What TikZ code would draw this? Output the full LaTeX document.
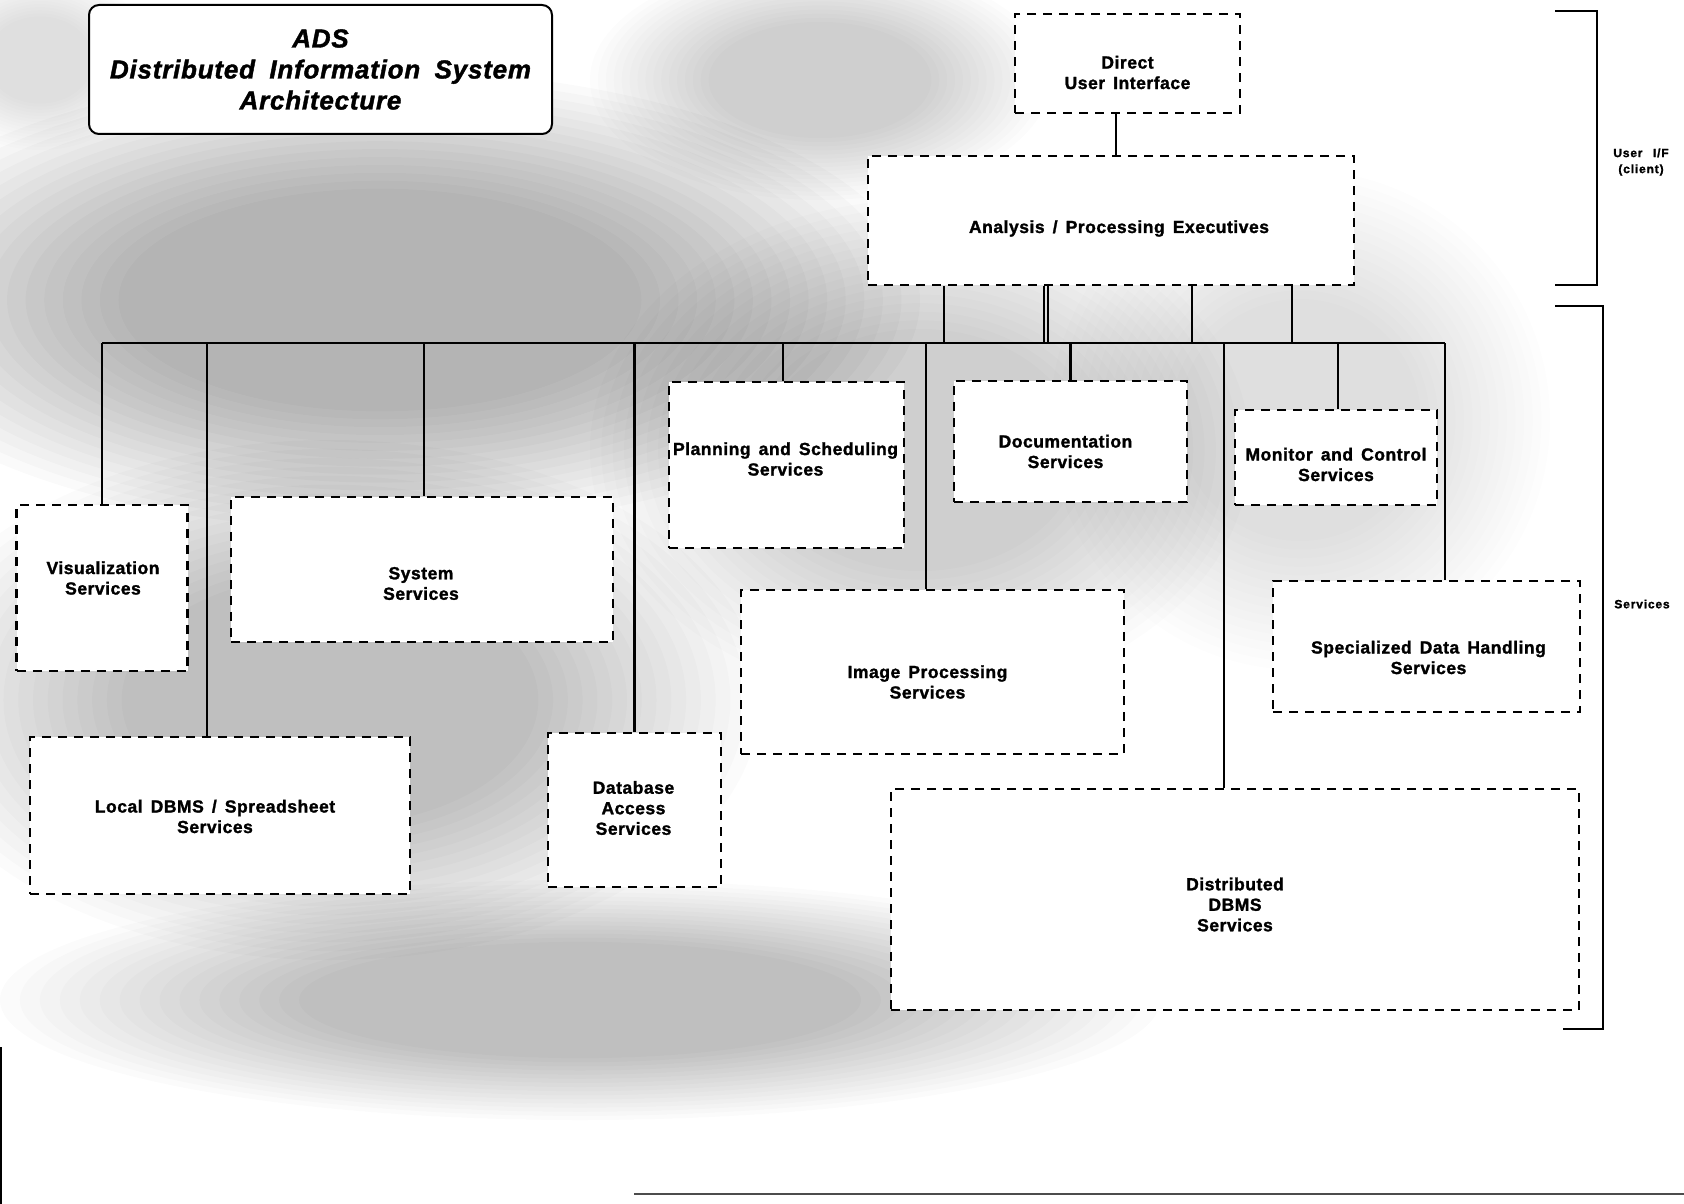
\documentclass[tikz,border=0pt]{standalone}
\usepackage{fontspec}
\setmainfont{Liberation Sans}
\newfontfamily\labfont{Liberation Sans Bold}[LetterSpace=3,WordSpace=1.5,FakeBold=1.5]
\newfontfamily\titfont{Liberation Sans Bold Italic}[LetterSpace=3,WordSpace=1.8,FakeBold=1.5]
\newfontfamily\sidefont{Liberation Sans Bold}[LetterSpace=7,WordSpace=2.5,FakeBold=1.5]
\usetikzlibrary{calc}
% soft blob with a flat centre: 16 layers from half radius to full radius
\newcommand\bgblob[5]{%
  \foreach \k in {1,...,16}{%
    \pgfmathsetmacro\rxx{#3*(0.45+0.55*\k/16)}%
    \pgfmathsetmacro\ryy{#4*(0.45+0.55*\k/16)}%
    \pgfmathsetmacro\opa{#5/16}%
    \fill[black, fill opacity=\opa] (#1,#2) ellipse [x radius=\rxx pt, y radius=\ryy pt];
  }}
\tikzset{
  box/.style={draw, line width=2.5pt, dash pattern=on 9pt off 7pt, fill=white, inner sep=0pt},
  lab/.style={font=\labfont\fontsize{17.5}{20.5}\selectfont, align=center, inner sep=0pt},
  wire/.style={line width=2.5pt},
  brk/.style={line width=2.5pt},
  side/.style={font=\sidefont\fontsize{12}{16}\selectfont, align=center, inner sep=0pt},
}
\begin{document}
\begin{tikzpicture}[x=1pt,y=-1pt]
\useasboundingbox (0,0) rectangle (1684,1204);
\fill[white] (0,0) rectangle (1684,1204);
% background stipple tone
\begin{scope}
\clip (0,0) rectangle (1684,1204);
\bgblob{380}{300}{540}{230}{0.30}
\bgblob{330}{700}{430}{260}{0.24}
\bgblob{580}{1000}{580}{120}{0.24}
\bgblob{920}{450}{330}{250}{0.20}
\bgblob{1300}{420}{250}{250}{0.10}
\bgblob{820}{80}{230}{120}{0.16}
\bgblob{40}{60}{110}{90}{0.12}
\end{scope}
% page edges
\draw[line width=1.5pt, black!70] (634,1194) -- (1684,1194);
\draw[line width=1.5pt] (1,1047) -- (1,1204);

% title
\node[draw, line width=2pt, rounded corners=10pt, fill=white, minimum width=463pt, minimum height=129pt,
      font=\titfont\fontsize{26}{31}\selectfont, align=center, inner sep=0pt]
      (title) at (320.5,69.5) {ADS\\Distributed Information System\\Architecture};

% boxes
\node[box, minimum width=225pt, minimum height=99pt] (dui) at (1127.5,63.5) {};
\node[box, minimum width=486pt, minimum height=129pt] (ape) at (1111,220.5) {};
\node[box, minimum width=171pt, minimum height=166pt] (vis) at (102,588) {};
\node[box, minimum width=382pt, minimum height=145pt] (sys) at (422,569.5) {};
\node[box, minimum width=380pt, minimum height=157pt] (ldb) at (220,815.5) {};
\node[box, minimum width=235pt, minimum height=166pt] (pln) at (786.5,465) {};
\node[box, minimum width=233pt, minimum height=121pt] (doc) at (1070.5,441.5) {};
\node[box, minimum width=202pt, minimum height=95pt] (mon) at (1336,457.5) {};
\node[box, minimum width=383pt, minimum height=164pt] (img) at (932.5,672) {};
\node[box, minimum width=307pt, minimum height=131pt] (spc) at (1426.5,646.5) {};
\node[box, minimum width=173pt, minimum height=154pt] (dba) at (634.5,810) {};
\node[box, minimum width=688pt, minimum height=221pt] (ddb) at (1235,899.5) {};

% texts
\node[lab] at ($(dui)+(0,9)$) {Direct\\User Interface};
\node[lab] at ($(ape)+(8,8)$) {Analysis / Processing Executives};
\node[lab] at ($(vis)+(1,-10)$) {Visualization\\Services};
\node[lab] at ($(sys)+(-1,14)$) {System\\Services};
\node[lab] at ($(ldb)+(-5,1)$) {Local DBMS / Spreadsheet\\Services};
\node[lab] at ($(pln)+(-1,-6)$) {Planning and Scheduling\\Services};
\node[lab] at ($(doc)+(-5,10)$) {Documentation\\Services};
\node[lab] at ($(mon)+(0,7)$) {Monitor and Control\\Services};
\node[lab] at ($(img)+(-5,10)$) {Image Processing\\Services};
\node[lab] at ($(spc)+(2,11)$) {Specialized Data Handling\\Services};
\node[lab] at ($(dba)+(-1,-2)$) {Database\\Access\\Services};
\node[lab] at ($(ddb)+(0,5)$) {Distributed\\DBMS\\Services};

% bus
\coordinate (busL) at (102,343);
\coordinate (busR) at (1445,343);
\draw[wire] (busL) -- (busR);

% direct UI to executives
\coordinate (u0) at ([xshift=-11.5pt]dui.south);
\draw[wire] (u0) -- (u0 |- ape.north);

% executives to bus
\coordinate (a1) at ([xshift=-167pt]ape.south);
\coordinate (a2) at ([xshift=-67pt]ape.south);
\coordinate (a3) at ([xshift=-63pt]ape.south);
\coordinate (a4) at ([xshift=81pt]ape.south);
\coordinate (a5) at ([xshift=181pt]ape.south);
\foreach \a in {a1,a2,a3,a4,a5} \draw[wire] (\a) -- (\a |- busL);

% bus to services
\coordinate (d1) at (vis.north);
\coordinate (d2) at ([xshift=-13pt]ldb.north);
\coordinate (d3) at ([xshift=2pt]sys.north);
\coordinate (d4) at (dba.north);
\coordinate (d5) at ([xshift=-3.5pt]pln.north);
\coordinate (d6) at ([xshift=-6.5pt]img.north);
\coordinate (d7) at (doc.north);
\coordinate (d8) at ([xshift=-11pt]ddb.north);
\coordinate (d9) at ([xshift=2pt]mon.north);
\coordinate (d10) at ([xshift=18.5pt]spc.north);
\foreach \d in {d1,d2,d3,d4,d5,d6,d7,d8,d9,d10} \draw[wire] (\d |- busL) -- (\d);

% side brackets
\draw[brk] (1555,11) -- (1597,11) -- (1597,285) -- (1555,285);
\draw[brk] (1555,306) -- (1603,306) -- (1603,1029) -- (1563,1029);
\node[side] (uif) at (1641,162) {User I/F\\(client)};
\node[side] (svc) at (1642,604) {Services};
\end{tikzpicture}
\end{document}
